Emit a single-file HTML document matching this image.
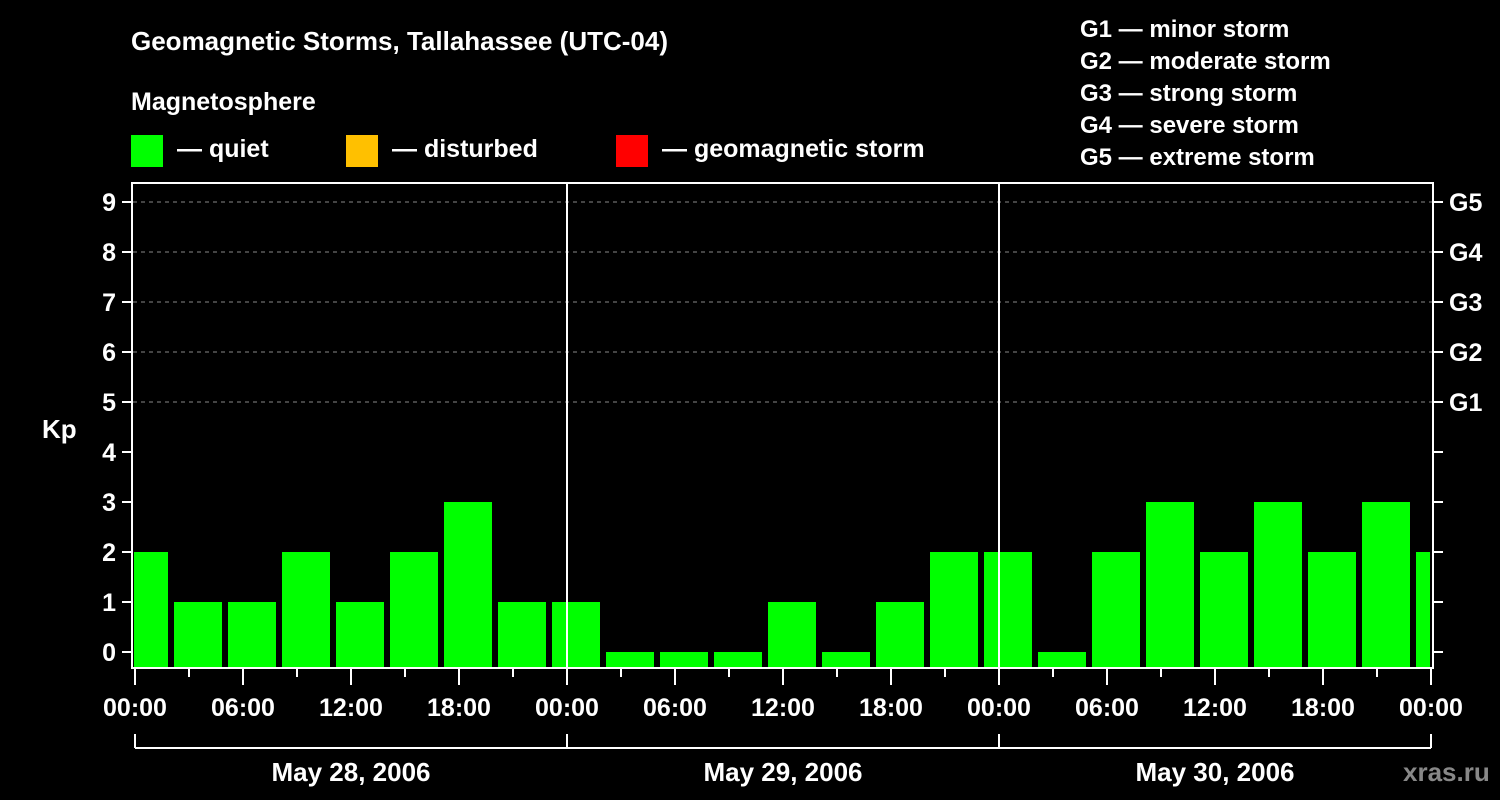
<!DOCTYPE html>
<html><head><meta charset="utf-8"><style>
html,body{margin:0;padding:0;background:#000;}
svg{display:block;font-family:"Liberation Sans",sans-serif;font-weight:bold;}
</style></head><body>
<svg width="1500" height="800" viewBox="0 0 1500 800">
<rect width="1500" height="800" fill="#000"/>
<g fill="#fff" font-size="26">
<text x="131" y="50">Geomagnetic Storms, Tallahassee (UTC-04)</text>
<text x="131" y="110" font-size="25">Magnetosphere</text>
</g>
<g font-size="25" fill="#fff">
<rect x="131" y="135" width="32" height="32" fill="#00ff00"/>
<text x="177" y="157">— quiet</text>
<rect x="346" y="135" width="32" height="32" fill="#ffc000"/>
<text x="392" y="157">— disturbed</text>
<rect x="616" y="135" width="32" height="32" fill="#ff0000"/>
<text x="662" y="157">— geomagnetic storm</text>
</g>
<g font-size="24" fill="#fff">
<text x="1080" y="37">G1 — minor storm</text>
<text x="1080" y="69">G2 — moderate storm</text>
<text x="1080" y="101">G3 — strong storm</text>
<text x="1080" y="133">G4 — severe storm</text>
<text x="1080" y="165">G5 — extreme storm</text>
</g>
<defs><clipPath id="pc"><rect x="134" y="183" width="1296" height="485"/></clipPath></defs>
<g id="grid"></g>
<g id="bars" clip-path="url(#pc)"></g>
<g id="axes"></g>
<text x="1403" y="781" fill="#888" font-size="26">xras.ru</text>
</svg>
<script>
const kpValues=[2,1,1,2,1,2,3,1,1,0,0,0,1,0,1,2,2,0,2,3,2,3,2,3,2];
const binStartHour=-1;
const yTicks=[0,1,2,3,4,5,6,7,8,9];
const gLabels=["G1","G2","G3","G4","G5"];
const xLabels=["00:00","06:00","12:00","18:00","00:00","06:00","12:00","18:00","00:00","06:00","12:00","18:00","00:00"];
const dayLabels=["May 28, 2006","May 29, 2006","May 30, 2006"];
const NS="http://www.w3.org/2000/svg";
const X=h=>135+18*h, Y=v=>652-50*v;
function mk(p,t,a){const e=document.createElementNS(NS,t);for(const k in a)e.setAttribute(k,a[k]);p.appendChild(e);return e;}
const grid=document.getElementById('grid'),bars=document.getElementById('bars'),axes=document.getElementById('axes');
for(let v=5;v<=9;v++){const l=mk(grid,'line',{x1:133,x2:1433,y1:Y(v),y2:Y(v),stroke:'#888','stroke-dasharray':'4,4','stroke-width':1});

}
kpValues.forEach((v,i)=>{const s=binStartHour+3*i;const c=v>=5?'#ff0000':(v>=4?'#ffc000':'#00ff00');
const r=mk(bars,'rect',{x:X(s)+3,y:Y(v),width:48,height:668-Y(v),fill:c});

});
mk(axes,'rect',{x:132,y:183,width:1301,height:485,fill:'none',stroke:'#fff','stroke-width':2});
[24,48].forEach(h=>mk(axes,'line',{x1:X(h),x2:X(h),y1:183,y2:668,stroke:'#fff','stroke-width':2}));
yTicks.forEach(v=>{mk(axes,'line',{x1:122,x2:132,y1:Y(v),y2:Y(v),stroke:'#fff','stroke-width':2});
mk(axes,'line',{x1:1433,x2:1443,y1:Y(v),y2:Y(v),stroke:'#fff','stroke-width':2});
const t=mk(axes,'text',{x:116,y:Y(v)+9,'text-anchor':'end',fill:'#fff','font-size':25});t.textContent=v;

});
gLabels.forEach((g,i)=>{const t=mk(axes,'text',{x:1449,y:Y(5+i)+9,fill:'#fff','font-size':25});t.textContent=g;

});
const kp=mk(axes,'text',{x:42,y:438,fill:'#fff','font-size':26});kp.textContent='Kp';


for(let h=0;h<=72;h+=3){const major=h%6==0;mk(axes,'line',{x1:X(h),x2:X(h),y1:669,y2:major?685:677,stroke:'#fff','stroke-width':2});}
xLabels.forEach((s,i)=>{const t=mk(axes,'text',{x:X(6*i),y:716,'text-anchor':'middle',fill:'#fff','font-size':25});t.textContent=s;

});
mk(axes,'line',{x1:X(0),x2:X(72),y1:748,y2:748,stroke:'#fff','stroke-width':2});
for(let d=0;d<=3;d++)mk(axes,'line',{x1:X(24*d),x2:X(24*d),y1:734,y2:748,stroke:'#fff','stroke-width':2});
dayLabels.forEach((s,i)=>{const t=mk(axes,'text',{x:X(24*i+12),y:781,'text-anchor':'middle',fill:'#fff','font-size':26});t.textContent=s;

});
</script>
</body></html>
